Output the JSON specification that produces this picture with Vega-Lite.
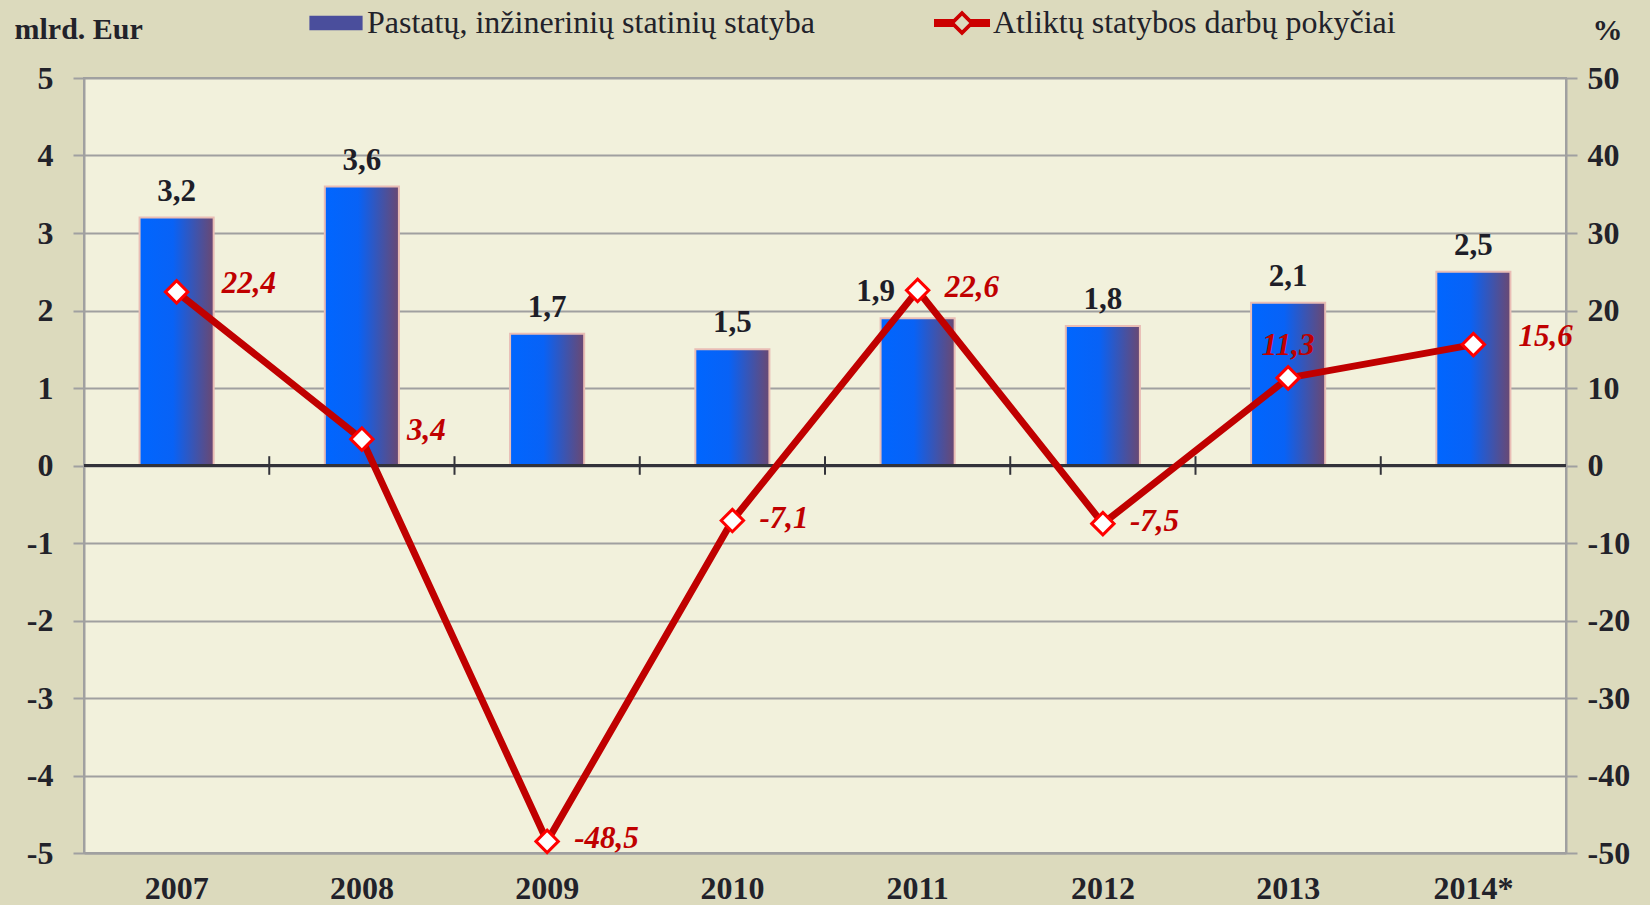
{
  "$schema": "https://vega.github.io/schema/vega-lite/v6.json",
  "width": 1482,
  "height": 775,
  "autosize": {"type": "none"},
  "padding": {"left": 84, "top": 78, "right": 84, "bottom": 52},
  "background": "#DCDABD",
  "view": {"fill": "#F2F1DC", "stroke": "#A0A0A0", "strokeWidth": 2},
  "config": {
    "locale": {"number": {"decimal": ",", "thousands": " ", "grouping": [3], "currency": ["", " €"], "minus": "-"}},
    "view": {"fill": "#F2F1DC", "stroke": "#A0A0A0", "strokeWidth": 2},
    "font": "Liberation Serif"
  },
  "datasets": {
    "d": [
      {"year": "2007", "bars": 3.2, "change": 22.4},
      {"year": "2008", "bars": 3.6, "change": 3.4},
      {"year": "2009", "bars": 1.7, "change": -48.5},
      {"year": "2010", "bars": 1.5, "change": -7.1},
      {"year": "2011", "bars": 1.9, "change": 22.6},
      {"year": "2012", "bars": 1.8, "change": -7.5},
      {"year": "2013", "bars": 2.1, "change": 11.3},
      {"year": "2014*", "bars": 2.5, "change": 15.6}
    ]
  },
  "data": {"name": "d"},
  "layer": [
    {
      "encoding": {
        "y": {"field": "bars", "type": "quantitative", "scale": {"domain": [-5, 5], "nice": false, "zero": false},
          "axis": {"title": "mlrd. Eur", "titleAngle": 0, "titleAlign": "left", "titleBaseline": "alphabetic", "titleX": -70, "titleY": -40,
            "titleFont": "Liberation Serif", "titleFontSize": 30, "titleFontWeight": "bold", "titleColor": "#22222a",
            "values": [-5, -4, -3, -2, -1, 0, 1, 2, 3, 4, 5], "format": "d",
            "labelFont": "Liberation Serif", "labelFontSize": 32, "labelFontWeight": "bold", "labelColor": "#22222a", "labelPadding": 20,
            "tickSize": 11, "tickColor": "#A0A0A0", "tickWidth": 2,
            "grid": true, "gridColor": "#A0A0A0", "gridWidth": 2, "domainColor": "#A0A0A0", "domainWidth": 2}}
      },
      "layer": [
        {
          "mark": {"type": "bar", "width": {"band": 0.4},
            "color": {"gradient": "linear", "x1": 0, "y1": 0, "x2": 1, "y2": 0,
              "stops": [{"offset": 0, "color": "#0066FF"}, {"offset": 0.45, "color": "#0862F6"}, {"offset": 1, "color": "#6A4872"}]},
            "stroke": "#E9BDB5", "strokeWidth": 2},
          "encoding": {
            "x": {"field": "year", "type": "nominal", "scale": {"paddingInner": 0, "paddingOuter": 0},
              "axis": {"title": null, "labelAngle": 0, "labelFont": "Liberation Serif", "labelFontSize": 32, "labelFontWeight": "bold", "labelColor": "#22222a", "labelPadding": 20, "ticks": false, "domainColor": "#A0A0A0", "domainWidth": 2}}
          }
        },
        {
          "transform": [{"filter": "datum.year != '2011'"}],
          "mark": {"type": "text", "baseline": "alphabetic", "dy": -17, "fontSize": 31, "fontWeight": "bold", "color": "#1e1e28", "font": "Liberation Serif"},
          "encoding": {
            "x": {"field": "year", "type": "nominal", "scale": {"paddingInner": 0, "paddingOuter": 0},
              "axis": {"title": null, "labelAngle": 0, "labelFont": "Liberation Serif", "labelFontSize": 32, "labelFontWeight": "bold", "labelColor": "#22222a", "labelPadding": 20, "ticks": false, "domainColor": "#A0A0A0", "domainWidth": 2}},
            "text": {"field": "bars", "type": "quantitative", "format": ".1f"}
          }
        },
        {
          "transform": [{"filter": "datum.year == '2011'"}],
          "mark": {"type": "text", "baseline": "alphabetic", "dy": -17, "dx": -42, "fontSize": 31, "fontWeight": "bold", "color": "#1e1e28", "font": "Liberation Serif"},
          "encoding": {
            "x": {"field": "year", "type": "nominal", "scale": {"paddingInner": 0, "paddingOuter": 0},
              "axis": {"title": null, "labelAngle": 0, "labelFont": "Liberation Serif", "labelFontSize": 32, "labelFontWeight": "bold", "labelColor": "#22222a", "labelPadding": 20, "ticks": false, "domainColor": "#A0A0A0", "domainWidth": 2}},
            "text": {"field": "bars", "type": "quantitative", "format": ".1f"}
          }
        },
        {
          "mark": {"type": "rule", "color": "#33333a", "strokeWidth": 2},
          "encoding": {"y": {"datum": 0}}
        },
        {
          "transform": [{"filter": "datum.year != '2007'"}],
          "mark": {"type": "rule", "color": "#33333a", "strokeWidth": 2},
          "encoding": {
            "x": {"field": "year", "type": "nominal", "bandPosition": 0, "scale": {"paddingInner": 0, "paddingOuter": 0},
              "axis": {"title": null, "labelAngle": 0, "labelFont": "Liberation Serif", "labelFontSize": 32, "labelFontWeight": "bold", "labelColor": "#22222a", "labelPadding": 20, "ticks": false, "domainColor": "#A0A0A0", "domainWidth": 2}},
            "y": {"datum": -0.12},
            "y2": {"datum": 0.12}
          }
        }
      ]
    },
    {
      "encoding": {
        "x": {"field": "year", "type": "nominal", "scale": {"paddingInner": 0, "paddingOuter": 0},
          "axis": {"title": null, "labelAngle": 0, "labelFont": "Liberation Serif", "labelFontSize": 32, "labelFontWeight": "bold", "labelColor": "#22222a", "labelPadding": 20, "ticks": false, "domainColor": "#A0A0A0", "domainWidth": 2}},
        "y": {"field": "change", "type": "quantitative", "scale": {"domain": [-50, 50], "nice": false, "zero": false},
          "axis": {"orient": "right", "title": "%", "titleAngle": 0, "titleAlign": "center", "titleBaseline": "alphabetic", "titleX": 41, "titleY": -39,
            "titleFont": "Liberation Serif", "titleFontSize": 30, "titleFontWeight": "bold", "titleColor": "#22222a",
            "values": [-50, -40, -30, -20, -10, 0, 10, 20, 30, 40, 50], "format": "d",
            "labelFont": "Liberation Serif", "labelFontSize": 32, "labelFontWeight": "bold", "labelColor": "#22222a", "labelPadding": 10,
            "tickSize": 11, "tickColor": "#A0A0A0", "tickWidth": 2,
            "grid": false, "domainColor": "#A0A0A0", "domainWidth": 2}}
      },
      "layer": [
        {"mark": {"type": "line", "color": "#C00000", "strokeWidth": 7}},
        {"mark": {"type": "point", "shape": "diamond", "filled": true, "fill": "#FFFFFF", "stroke": "#FF0000", "strokeWidth": 3, "size": 500, "opacity": 1}},
        {
          "transform": [{"filter": "indexof(['2007','2008','2014*'], datum.year) >= 0"}],
          "mark": {"type": "text", "align": "left", "baseline": "middle", "dx": 45, "dy": -8, "fontSize": 31, "fontWeight": "bold", "fontStyle": "italic", "color": "#C00000", "font": "Liberation Serif"},
          "encoding": {"text": {"field": "change", "type": "quantitative", "format": ".1f"}}
        },
        {
          "transform": [{"filter": "indexof(['2009','2010','2011','2012'], datum.year) >= 0"}],
          "mark": {"type": "text", "align": "left", "baseline": "middle", "dx": 27, "dy": -2, "fontSize": 31, "fontWeight": "bold", "fontStyle": "italic", "color": "#C00000", "font": "Liberation Serif"},
          "encoding": {"text": {"field": "change", "type": "quantitative", "format": ".1f"}}
        },
        {
          "transform": [{"filter": "datum.year == '2013'"}],
          "mark": {"type": "text", "align": "center", "baseline": "middle", "dy": -32, "fontSize": 31, "fontWeight": "bold", "fontStyle": "italic", "color": "#C00000", "font": "Liberation Serif"},
          "encoding": {"text": {"field": "change", "type": "quantitative", "format": ".1f"}}
        }
      ]
    },
    {
      "data": {"values": [{"series": "Pastatų, inžinerinių statinių statyba"}, {"series": "Atliktų statybos darbų pokyčiai"}]},
      "mark": {"type": "point", "filled": true, "opacity": 0},
      "encoding": {
        "fill": {"field": "series", "type": "nominal",
          "scale": {"domain": ["Pastatų, inžinerinių statinių statyba", "Atliktų statybos darbų pokyčiai"], "range": ["#4A4E9C", "#CC0000"]},
          "legend": {"title": null, "orient": "none", "legendX": 224, "legendY": -83, "direction": "horizontal", "symbolSize": 3136, "symbolOpacity": 1, "symbolStrokeWidth": 0,
            "labelFont": "Liberation Serif", "labelFontSize": 32, "labelColor": "#22222a", "labelLimit": 1000, "labelOffset": 3, "columnPadding": 119}},
        "shape": {"field": "series", "type": "nominal",
          "scale": {"domain": ["Pastatų, inžinerinių statinių statyba", "Atliktų statybos darbų pokyčiai"],
            "range": ["M-0.95,-0.26H0.95V0.26H-0.95Z", "M-1,-0.14H-0.3V0.14H-1Z M0.3,-0.14H1V0.14H0.3Z M0,-0.45L0.45,0L0,0.45L-0.45,0Z M0,-0.26L-0.26,0L0,0.26L0.26,0Z"]},
          "legend": {"title": null, "orient": "none", "legendX": 224, "legendY": -83, "direction": "horizontal", "symbolSize": 3136, "symbolOpacity": 1, "symbolStrokeWidth": 0,
            "labelFont": "Liberation Serif", "labelFontSize": 32, "labelColor": "#22222a", "labelLimit": 1000, "labelOffset": 3, "columnPadding": 119}}
      }
    }
  ],
  "resolve": {"scale": {"y": "independent"}}
}
